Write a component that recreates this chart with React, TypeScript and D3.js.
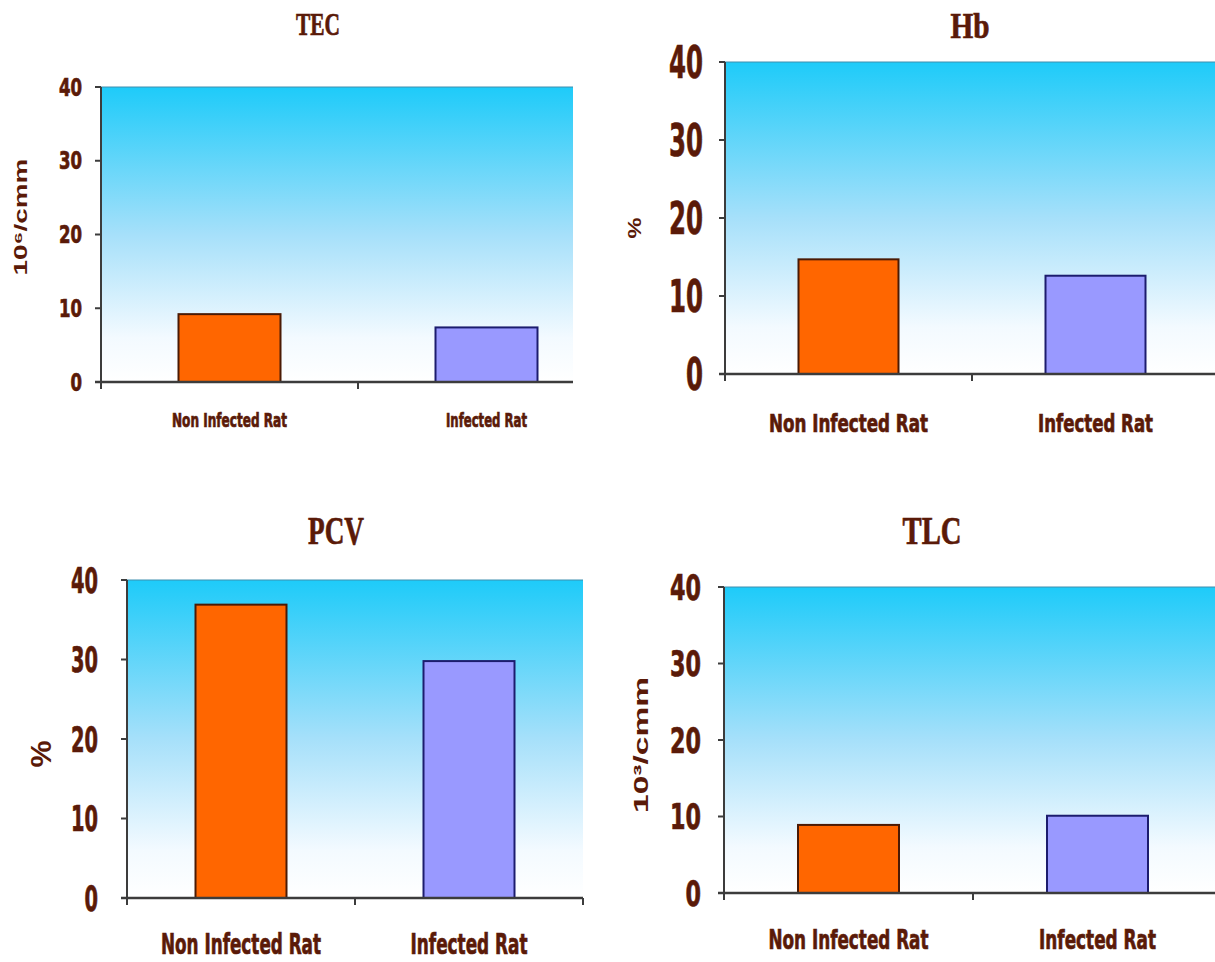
import React from "react";
import * as d3 from "d3";

const categories = ["Non Infected Rat", "Infected Rat"];
const yTicks = [0, 10, 20, 30, 40];
const panelTitles = ["TEC", "Hb", "PCV", "TLC"];
const yAxisTitles = ["10⁶/cmm", "%", "%", "10³/cmm"];
const tecValues = [9.2, 7.4];
const hbValues = [14.7, 12.6];
const pcvValues = [36.9, 29.8];
const tlcValues = [8.9, 10.1];
const barColors = ["#ff6600", "#9999ff"];
const barStrokes = ["#4a1a05", "#1c1c6e"];

const TEXT = "#5a1a08";
const SANS = "'Liberation Sans Narrow', 'DejaVu Sans Condensed', Arial, sans-serif";
const SERIF = "'Liberation Serif', 'DejaVu Serif', serif";

type Layout = {
  x0: number; band: number; right: number; top: number; bottom: number;
  tickFs: number; tickCharW: number; tickRight: number; barW: number;
  xlabFs: number; xlabY: number; xlabW: number[];
  titleX: number; titleY: number; titleFs: number; titleW: number;
  yLabX: number; yLabY: number; yLabFs: number; yLabW: number;
};

const layouts: Layout[] = [
  { x0: 101, band: 257, right: 573, top: 87, bottom: 382, tickFs: 24, tickCharW: 11.5, tickRight: 82, barW: 102,
    xlabFs: 19, xlabY: 427, xlabW: [115, 81], titleX: 318, titleY: 35, titleFs: 31, titleW: 44,
    yLabX: 20, yLabY: 217, yLabFs: 19, yLabW: 117 },
  { x0: 725, band: 247, right: 1222, top: 62, bottom: 374, tickFs: 44, tickCharW: 17, tickRight: 703, barW: 100,
    xlabFs: 25, xlabY: 432, xlabW: [159, 115], titleX: 970, titleY: 38, titleFs: 35, titleW: 39,
    yLabX: 635, yLabY: 228, yLabFs: 18, yLabW: 21 },
  { x0: 127, band: 228, right: 583, top: 580, bottom: 898, tickFs: 35, tickCharW: 13.5, tickRight: 98, barW: 91,
    xlabFs: 28, xlabY: 954, xlabW: [160, 117], titleX: 336, titleY: 544, titleFs: 39, titleW: 56,
    yLabX: 40, yLabY: 754, yLabFs: 30, yLabW: 27 },
  { x0: 724, band: 249, right: 1222, top: 587, bottom: 893, tickFs: 35, tickCharW: 15.5, tickRight: 701, barW: 101,
    xlabFs: 27, xlabY: 949, xlabW: [160, 117], titleX: 932, titleY: 544, titleFs: 39, titleW: 59,
    yLabX: 640, yLabY: 745, yLabFs: 21, yLabW: 136 },
];

const panelValues = [tecValues, hbValues, pcvValues, tlcValues];

function Panel({ idx }: { idx: number }) {
  const L = layouts[idx];
  const values = panelValues[idx];
  const y = d3.scaleLinear().domain([0, 40]).range([L.bottom, L.top]);
  const x = d3.scaleBand<string>().domain(categories).range([L.x0, L.x0 + 2 * L.band]).padding(0);
  const gid = `grad${idx}`;
  const axisColor = "#3c3c3c";
  const heavy = { stroke: TEXT, strokeWidth: 0.7, paintOrder: "stroke" } as any;
  return (
    <g>
      <defs>
        <linearGradient id={gid} x1="0" y1="0" x2="0" y2="1">
          <stop offset="0" stopColor="#1ecbf9" />
          <stop offset="0.5" stopColor="#a6e0fa" />
          <stop offset="0.85" stopColor="#f3faff" />
          <stop offset="1" stopColor="#ffffff" />
        </linearGradient>
      </defs>
      <rect x={L.x0} y={y(40)} width={L.right - L.x0} height={y(0) - y(40)} fill={`url(#${gid})`} />
      <line x1={L.x0} x2={L.right} y1={y(40)} y2={y(40)} stroke="#3f8fae" strokeWidth={1} />
      {categories.map((c, i) => {
        const cx = (x(c) as number) + x.bandwidth() / 2;
        return (
          <rect key={c} x={cx - L.barW / 2} y={y(values[i])} width={L.barW} height={y(0) - y(values[i])}
            fill={barColors[i]} stroke={barStrokes[i]} strokeWidth={2} />
        );
      })}
      {/* y axis */}
      <line x1={L.x0} x2={L.x0} y1={y(40)} y2={y(0) + 6} stroke={axisColor} strokeWidth={2} />
      {yTicks.map((t) => (
        <g key={t}>
          <line x1={L.x0 - 6} x2={L.x0} y1={y(t)} y2={y(t)} stroke={axisColor} strokeWidth={2} />
          <text x={L.tickRight} y={y(t)} dy="0.36em" textAnchor="end" fontFamily={SANS} fontWeight="bold"
            fontSize={L.tickFs} fill={TEXT} textLength={String(t).length * L.tickCharW} lengthAdjust="spacingAndGlyphs"
            {...heavy}>
            {t}
          </text>
        </g>
      ))}
      {/* x axis */}
      <line x1={L.x0 - 6} x2={L.right} y1={y(0)} y2={y(0)} stroke={axisColor} strokeWidth={2.5} />
      {[L.x0, L.x0 + L.band, L.x0 + 2 * L.band].filter((tx) => tx <= L.right).map((tx, i) => (
        <line key={i} x1={tx} x2={tx} y1={y(0)} y2={y(0) + 7} stroke={axisColor} strokeWidth={2} />
      ))}
      {categories.map((c, i) => {
        const cx = (x(c) as number) + x.bandwidth() / 2;
        return (
          <text key={c} x={cx} y={L.xlabY} textAnchor="middle" fontFamily={SANS} fontWeight="bold"
            fontSize={L.xlabFs} fill={TEXT} textLength={L.xlabW[i]} lengthAdjust="spacingAndGlyphs" {...heavy}>
            {c}
          </text>
        );
      })}
      <text x={L.titleX} y={L.titleY} textAnchor="middle" fontFamily={SERIF} fontWeight="bold"
        fontSize={L.titleFs} fill={TEXT} textLength={L.titleW} lengthAdjust="spacingAndGlyphs" {...heavy}>
        {panelTitles[idx]}
      </text>
      <text transform={`translate(${L.yLabX},${L.yLabY}) rotate(-90)`} textAnchor="middle" dy="0.36em"
        fontFamily={"'Liberation Sans', Arial, sans-serif"} fontWeight="bold" fontSize={L.yLabFs} fill={TEXT}
        textLength={L.yLabW} lengthAdjust="spacingAndGlyphs">
        {yAxisTitles[idx]}
      </text>
    </g>
  );
}

export default function App() {
  return (
    <svg width={1215} height={962} style={{ position: "absolute", left: 0, top: 0, background: "#ffffff" }}>
      <rect x={0} y={0} width={1215} height={962} fill="#ffffff" />
      {layouts.map((_, i) => (
        <Panel key={i} idx={i} />
      ))}
    </svg>
  );
}
